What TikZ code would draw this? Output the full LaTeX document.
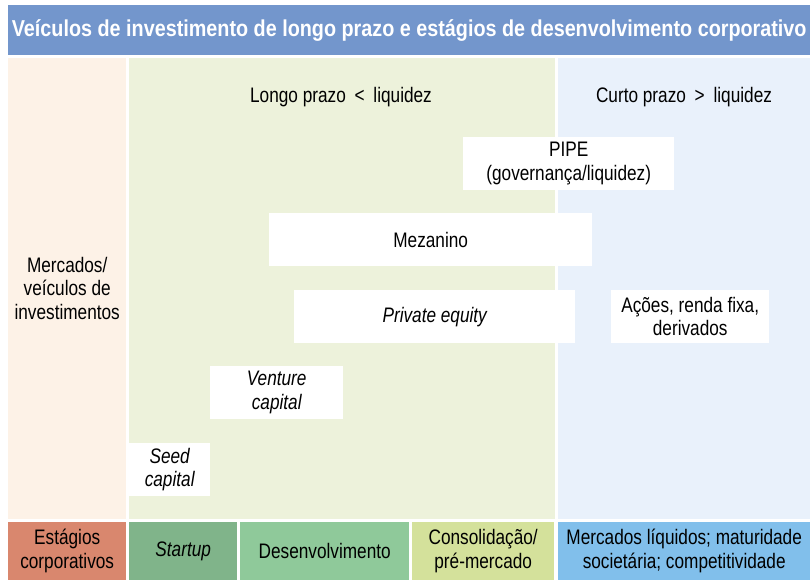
\documentclass[tikz,border=0pt]{standalone}
\usepackage{fontspec}
\setmainfont{Liberation Sans}[FakeStretch=0.82]
\newfontfamily\headfont{Liberation Sans}[FakeStretch=0.86]
\usepackage{tikz}
\usetikzlibrary{positioning}
\usepackage{xcolor}

\definecolor{titleblue}{RGB}{115,150,204}
\definecolor{peach}{RGB}{253,242,231}
\definecolor{palegreen}{RGB}{237,242,219}
\definecolor{paleblue}{RGB}{233,241,251}
\definecolor{salmon}{RGB}{217,135,110}
\definecolor{startgreen}{RGB}{128,180,138}
\definecolor{devgreen}{RGB}{143,201,154}
\definecolor{consgreen}{RGB}{212,225,155}
\definecolor{mktblue}{RGB}{129,191,235}

\begin{document}
\begin{tikzpicture}[
  x=1pt, y=-1pt,
  panel/.style={rectangle, anchor=north west, inner sep=0pt, align=center, font=\fontsize{21}{23.5}\selectfont},
  vehicle/.style={panel, fill=white},
  stage/.style={panel},
  label/.style={font=\fontsize{21}{23.5}\selectfont, align=center},
]
\useasboundingbox (0,0) rectangle (810,580);

% Title
\node[panel, fill=titleblue, minimum width=802pt, minimum height=50pt, text=white,
  font=\headfont\fontsize{23}{25}\selectfont\bfseries] (title) at (8,5)
  {Veículos de investimento de longo prazo e estágios de desenvolvimento corporativo};

% Columns
\node[panel, fill=peach, minimum width=118pt, minimum height=461.5pt] (markets) at (8,57.5)
  {Mercados/\\veículos de\\investimentos};
\node[panel, fill=palegreen, minimum width=426pt, minimum height=461.5pt] (longterm) at (129,57.5) {};
\node[panel, fill=paleblue, minimum width=252pt, minimum height=461.5pt] (shortterm) at (558,57.5) {};
\node[label] (longlbl) at (341,97) {Longo prazo\hspace{4pt} < \hspace{4pt}liquidez};
\node[label] (shortlbl) at (684,97) {Curto prazo\hspace{4pt} > \hspace{4pt}liquidez};

% Vehicles
\node[vehicle, minimum width=211pt, minimum height=53pt] (pipe) at (463,137) {PIPE\\(governança/liquidez)};
\node[vehicle, minimum width=323pt, minimum height=53pt] (mezz) at (269,213) {Mezanino};
\node[vehicle, minimum width=281pt, minimum height=53pt] (pe) at (294,290) {\itshape Private equity};
\node[vehicle, minimum width=158pt, minimum height=53pt] (stocks) at (611,290) {Ações, renda fixa,\\derivados};
\node[vehicle, minimum width=133pt, minimum height=53pt] (vc) at (210,366) {\itshape Venture\\\itshape capital};
\node[vehicle, minimum width=81pt, minimum height=53pt] (seed) at (129,443) {\itshape Seed\\\itshape capital};

% Stages
\node[stage, fill=salmon, minimum width=118pt, minimum height=58.3pt] (stages) at (8,521.7) {Estágios\\corporativos};
\node[stage, fill=startgreen, minimum width=108pt, minimum height=58.3pt] (startup) at (129,521.7) {\itshape Startup};
\node[stage, fill=devgreen, minimum width=169pt, minimum height=58.3pt] (dev) at (240,521.7) {Desenvolvimento};
\node[stage, fill=consgreen, minimum width=142pt, minimum height=58.3pt] (cons) at (412,521.7) {Consolidação/\\pré-mercado};
\node[stage, fill=mktblue, minimum width=252pt, minimum height=58.3pt] (liquid) at (558,521.7) {Mercados líquidos; maturidade\\societária; competitividade};
\end{tikzpicture}
\end{document}
